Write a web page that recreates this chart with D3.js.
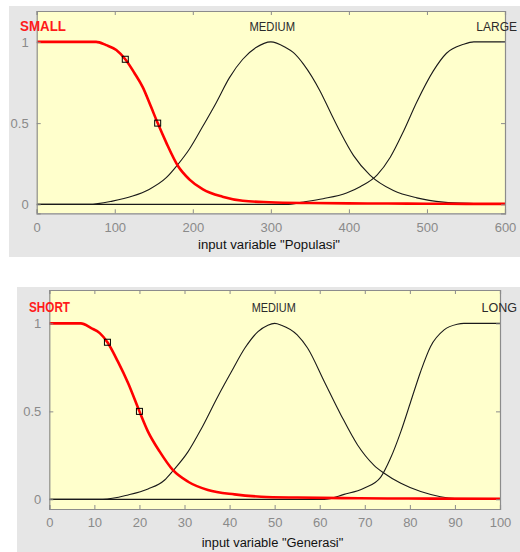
<!DOCTYPE html>
<html>
<head>
<meta charset="utf-8">
<script src="https://cdn.jsdelivr.net/npm/d3@7"></script>
<style>
html,body{margin:0;padding:0;background:#fff;}
svg{display:block;}
text{font-family:"Liberation Sans",Arial,sans-serif;}
</style>
</head>
<body>
<svg id="chart" width="520" height="552"></svg>
<script>
// ---------- DATA ----------
// Chart 1: input variable "Populasi"
const popXTicks = [0,100,200,300,400,500,600];
const popSmallX = [0,76,89,102,113.5,125,136,146.5,155,166,181,195.5,213,238,264,298,350,400,450,500,550,600];
const popSmallY = [1,1,0.98,0.95,0.893,0.81,0.72,0.6,0.5,0.38,0.236,0.154,0.092,0.047,0.022,0.013,0.008,0.006,0.005,0.004,0.003,0.003];
const popMediumX = [0,67,97,123,144,166,181,195.5,213,230,247,264,281,300,319,329,342,363,376,389,406,427,457,487,521,560,600];
const popMediumY = [0,0,0.02,0.051,0.092,0.164,0.246,0.339,0.482,0.626,0.78,0.893,0.965,1,0.965,0.934,0.862,0.698,0.57,0.445,0.3,0.18,0.085,0.04,0.014,0.005,0.002];
const popLargeX = [0,320,342,367,397,415,436,453,470,487,508,525,547,560,600];
const popLargeY = [0,0,0.015,0.035,0.07,0.11,0.18,0.29,0.45,0.63,0.82,0.93,0.985,1,1];
const popMarkX = [113.5,155];
const popMarkY = [0.893,0.5];
const popLabels = ["SMALL","MEDIUM","LARGE"];

// Chart 2: input variable "Generasi"
const genXTicks = [0,10,20,30,40,50,60,70,80,90,100];
const genShortX = [0,7,9.3,11.2,12.9,15.2,17.5,20,21.9,24.5,27.4,30.8,35.2,41.1,47,55,65,75,85,100];
const genShortY = [1,1,0.973,0.945,0.893,0.784,0.66,0.5,0.385,0.271,0.167,0.1,0.053,0.028,0.015,0.01,0.007,0.005,0.004,0.003];
const genMediumX = [0,11.9,17.5,21.9,25.6,27.4,30.8,33.7,37.4,40.4,43.4,46.3,48.5,50,51.5,55,57.3,61,64.7,68.4,72,74.3,78,82.4,86.8,90,100];
const genMediumY = [0,0,0.025,0.059,0.11,0.161,0.271,0.4,0.585,0.725,0.86,0.953,0.99,1,0.99,0.935,0.86,0.67,0.48,0.309,0.195,0.148,0.091,0.044,0.015,0.005,0];
const genLongX = [0,61,65.4,69.8,73.5,75.7,78,80.2,82.4,84.6,87.6,90.5,92,100];
const genLongY = [0,0,0.028,0.063,0.125,0.233,0.385,0.556,0.727,0.869,0.963,0.995,1,1];
const genMarkX = [12.9,20];
const genMarkY = [0.893,0.5];
const genLabels = ["SHORT","MEDIUM","LONG"];

const yTicks = [0,0.5,1];
const yTickLabels = ["0","0.5","1"];

// ---------- DRAW ----------
const svg = d3.select("#chart");
const zip = (xs, ys) => xs.map((x,i)=>({x:x,y:ys[i]}));

function panel(cfg){
  const g = svg.append("g");
  g.append("rect").attr("x",cfg.bg[0]).attr("y",cfg.bg[1])
    .attr("width",cfg.bg[2]).attr("height",cfg.bg[3]).attr("fill","#e6e6e6");

  const x = d3.scaleLinear().domain(cfg.xDomain).range([cfg.left,cfg.right]);
  const y = d3.scaleLinear().domain([-0.055,1.19]).range([cfg.bottom,cfg.top]);

  g.append("rect").attr("x",cfg.left).attr("y",cfg.top)
    .attr("width",cfg.right-cfg.left).attr("height",cfg.bottom-cfg.top)
    .attr("fill","#ffffcc");

  const clipId = "clip"+cfg.id;
  svg.append("clipPath").attr("id",clipId).append("rect")
    .attr("x",cfg.left).attr("y",cfg.top).attr("width",cfg.right-cfg.left).attr("height",cfg.bottom-cfg.top);

  const line = d3.line().x(d=>x(d.x)).y(d=>y(d.y)).curve(d3.curveMonotoneX);
  const cg = g.append("g").attr("clip-path","url(#"+clipId+")");

  cfg.black.forEach(s=>{
    cg.append("path").datum(zip(s[0],s[1])).attr("d",line)
      .attr("fill","none").attr("stroke","#1a1a1a").attr("stroke-width",1.1);
  });
  cg.append("path").datum(zip(cfg.red[0],cfg.red[1])).attr("d",line)
    .attr("fill","none").attr("stroke","#ff0000").attr("stroke-width",2.6);

  cg.selectAll("rect.mk").data(zip(cfg.marks[0],cfg.marks[1])).enter().append("rect")
    .attr("x",d=>x(d.x)-3).attr("y",d=>y(d.y)-3).attr("width",6).attr("height",6)
    .attr("fill","none").attr("stroke","#000").attr("stroke-width",1);

  const axCol = "#8c8c8c";
  const axB = g.append("g").attr("transform","translate(0,"+cfg.bottom+")")
    .call(d3.axisBottom(x).tickValues(cfg.xTicks).tickSize(-4).tickPadding(9).tickFormat(d3.format("d")));
  const axT = g.append("g").attr("transform","translate(0,"+cfg.top+")")
    .call(d3.axisTop(x).tickValues(cfg.xTicks).tickSize(-4).tickFormat(""));
  const axL = g.append("g").attr("transform","translate("+cfg.left+",0)")
    .call(d3.axisLeft(y).tickValues(yTicks).tickSize(-4).tickPadding(8).tickFormat((d,i)=>yTickLabels[i]));
  const axR = g.append("g").attr("transform","translate("+cfg.right+",0)")
    .call(d3.axisRight(y).tickValues(yTicks).tickSize(-4).tickFormat(""));
  [axB,axT,axL,axR].forEach(a=>{
    a.select(".domain").attr("stroke",axCol).attr("stroke-width",1.2);
    a.selectAll(".tick line").attr("stroke",axCol);
    a.selectAll("text").attr("fill","#8a8a8a").style("font-size","13px")
      .style("font-family","'Liberation Sans',Arial,sans-serif");
  });
  axB.selectAll("text").attr("dy","0.71em");

  const lbl = cfg.labels;
  g.append("text").attr("x",cfg.lblPos[0][0]).attr("y",cfg.lblY).text(lbl[0])
    .attr("fill","#ff1a1a").style("font-size","14px").style("font-weight","bold")
    .attr("textLength",cfg.lblPos[0][1]).attr("lengthAdjust","spacingAndGlyphs");
  g.append("text").attr("x",cfg.lblPos[1][0]).attr("y",cfg.lblY).text(lbl[1])
    .attr("fill","#2b2b2b").style("font-size","13.5px")
    .attr("textLength",cfg.lblPos[1][1]).attr("lengthAdjust","spacingAndGlyphs");
  g.append("text").attr("x",cfg.lblPos[2][0]).attr("y",cfg.lblY).text(lbl[2])
    .attr("text-anchor","end")
    .attr("fill","#2b2b2b").style("font-size",cfg.lblPos[2][1]+"px");

  g.append("text").attr("x",cfg.titleX).attr("y",cfg.titleY).attr("text-anchor","middle")
    .text(cfg.title).attr("fill","#111").style("font-size","12.5px")
    .attr("textLength",cfg.titleW).attr("lengthAdjust","spacingAndGlyphs");
}

panel({
  id:1, bg:[9,6,511,251],
  left:36.7, right:505, top:11, bottom:213.3,
  xDomain:[0,600], xTicks:popXTicks,
  black:[[popLargeX,popLargeY],[popMediumX,popMediumY]],
  red:[popSmallX,popSmallY], marks:[popMarkX,popMarkY],
  labels:popLabels, lblY:30.7,
  lblPos:[[20,46],[249.5,45.5],[517,12]],
  title:'input variable "Populasi"', titleX:269, titleY:249, titleW:142
});

panel({
  id:2, bg:[17,287,503,265],
  left:49.3, right:500, top:290, bottom:509,
  xDomain:[0,100], xTicks:genXTicks,
  black:[[genLongX,genLongY],[genMediumX,genMediumY]],
  red:[genShortX,genShortY], marks:[genMarkX,genMarkY],
  labels:genLabels, lblY:311.5,
  lblPos:[[29,41],[251.7,44],[517,12.5]],
  title:'input variable "Generasi"', titleX:272.5, titleY:547, titleW:141.6
});
</script>
</body>
</html>
